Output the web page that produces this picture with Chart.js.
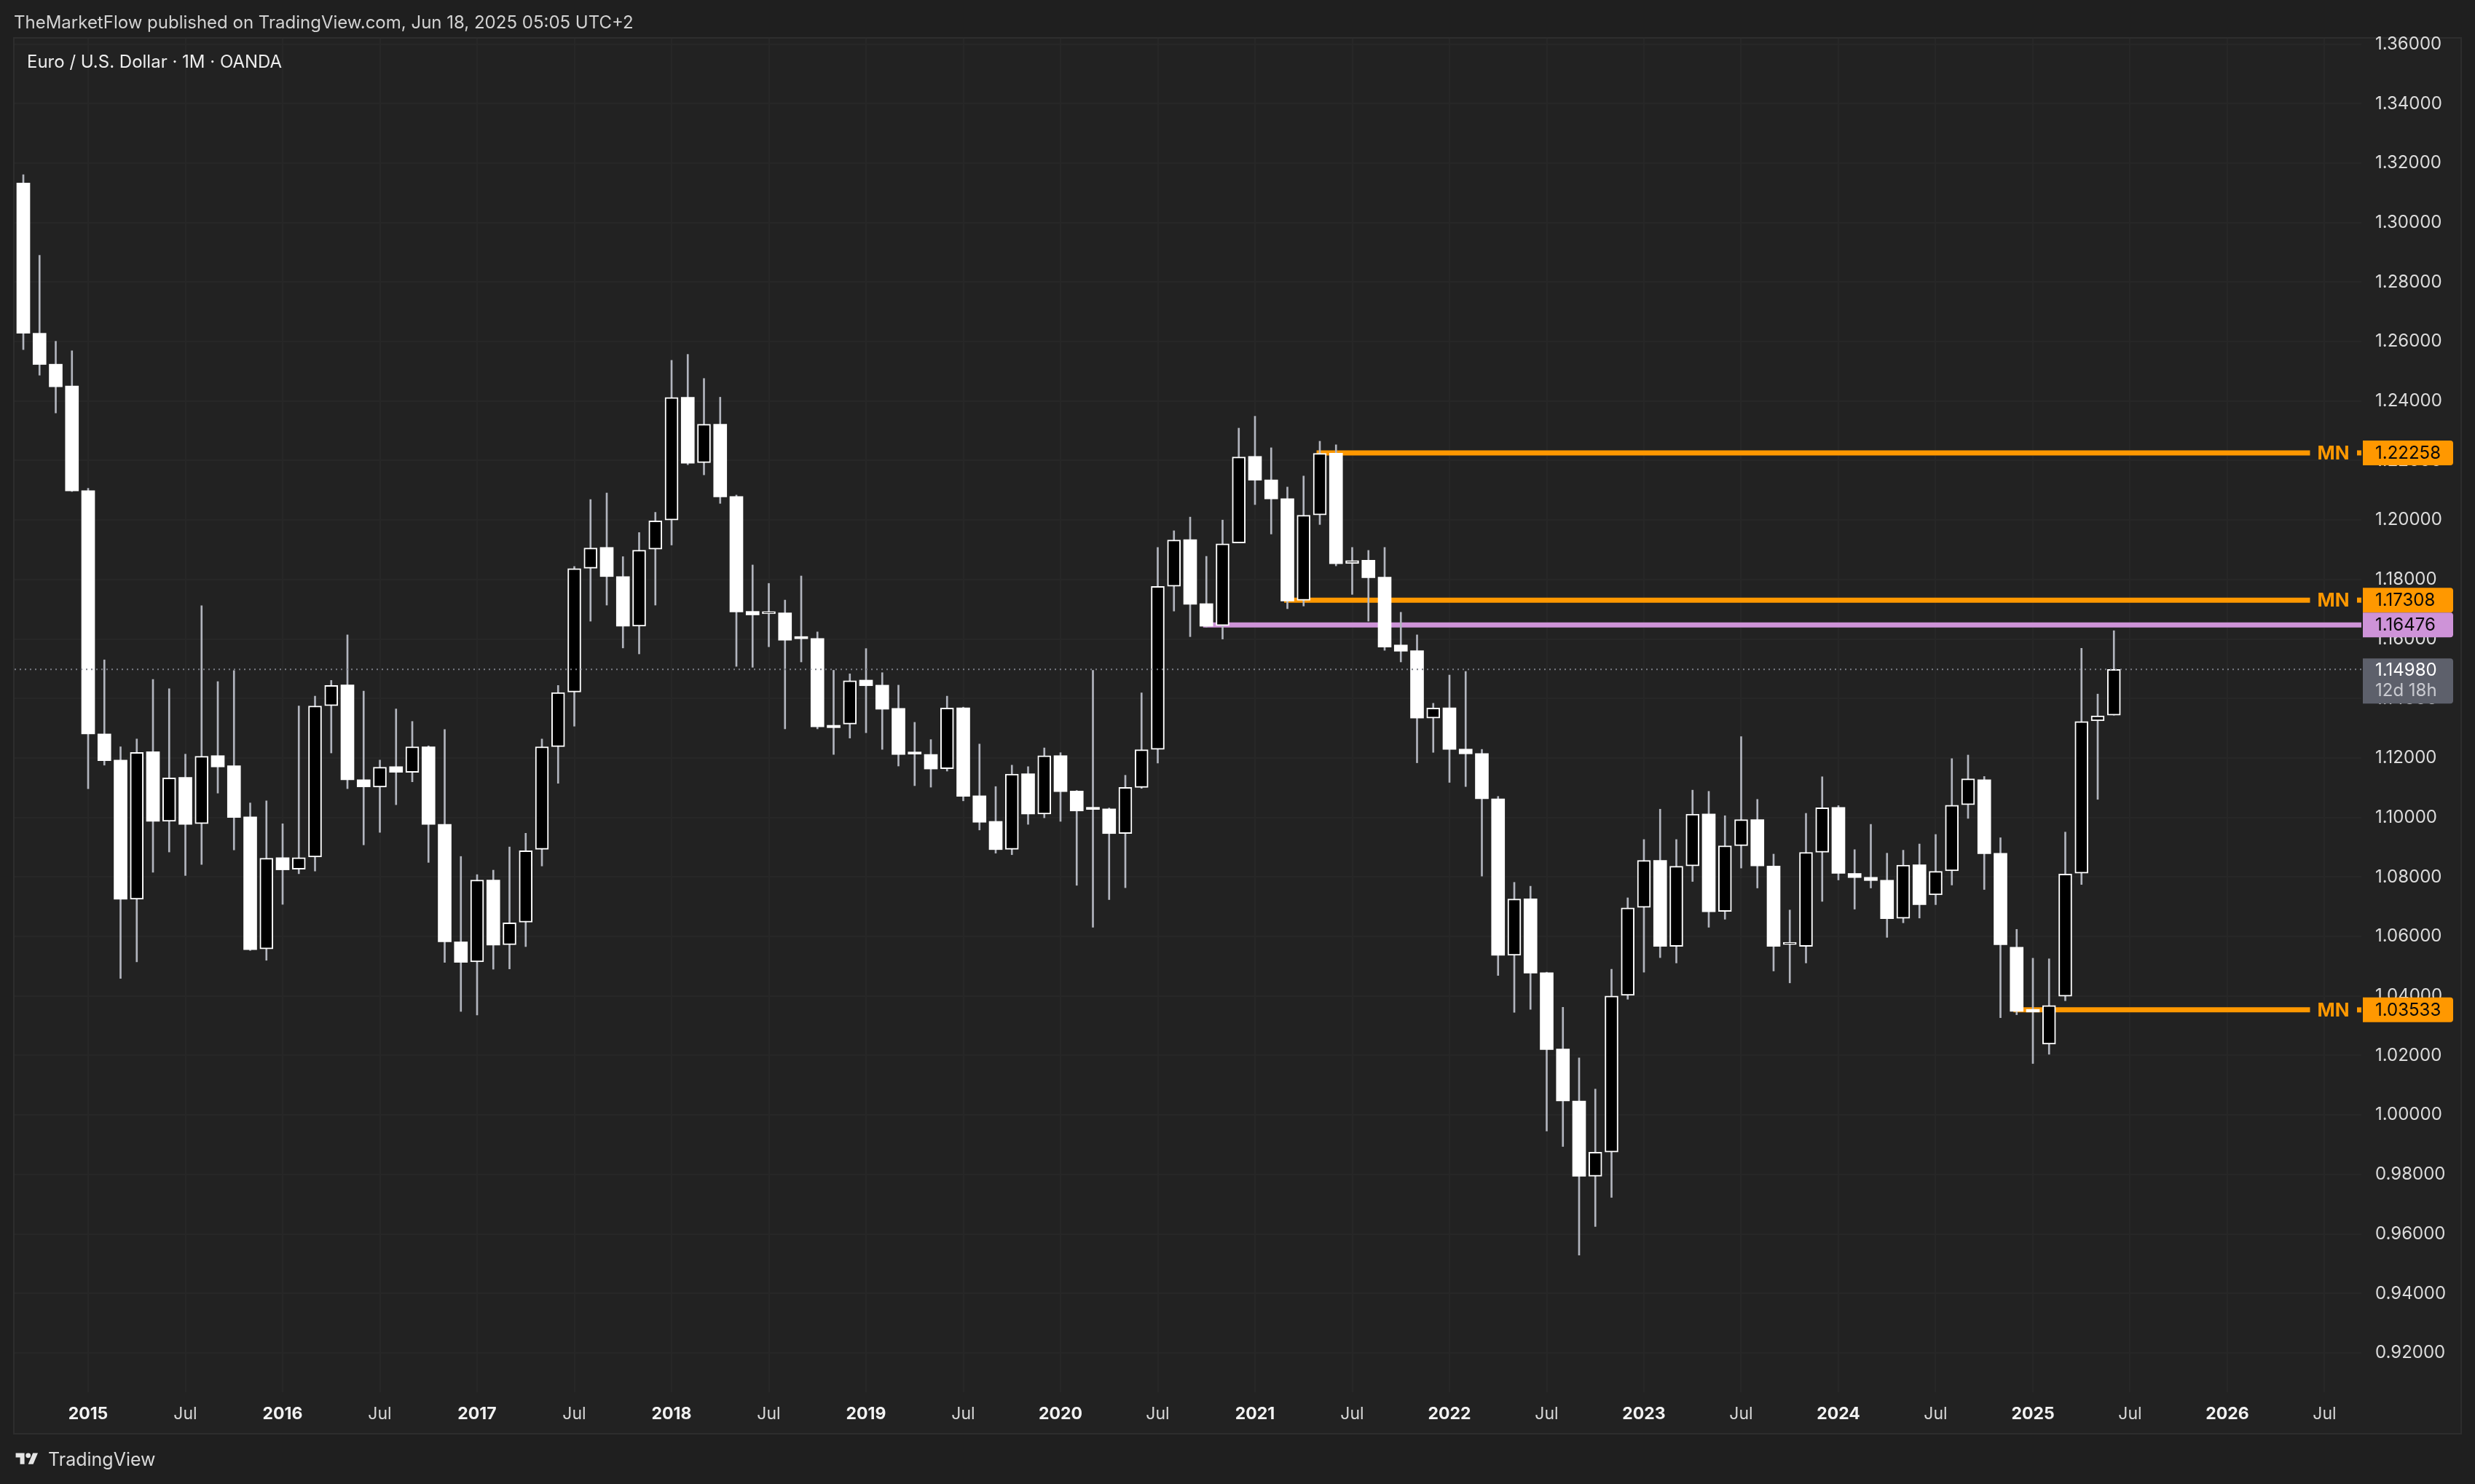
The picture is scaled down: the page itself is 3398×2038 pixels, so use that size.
<!DOCTYPE html>
<html>
<head>
<meta charset="utf-8">
<script src="https://cdn.jsdelivr.net/npm/chart.js@4.4.1/dist/chart.umd.min.js"></script>
<style>
  html, body { margin: 0; padding: 0; background: #1f1f1f; width: 3398px; height: 2038px; overflow: hidden; }
  body { font-family: Inter, "Noto Sans", sans-serif; }
  #wrap { position: relative; width: 3398px; height: 2038px; }
  #chart { position: absolute; left: 0; top: 0; }
  #header { position: absolute; left: 19px; top: 16px; font-size: 24px; color: #d2d2d2; white-space: nowrap; }
  #title { position: absolute; left: 37px; top: 70px; font-size: 24px; color: #ededed; white-space: nowrap; }
  #footer { position: absolute; left: 20px; top: 1990px; height: 28px; display: flex; align-items: center; color: #dadada; font-size: 25px; }
  #footer svg { margin-right: 12px; }
</style>
</head>
<body>
<div id="wrap">
  <canvas id="chart" width="3398" height="2038"></canvas>
  <div id="header">TheMarketFlow published on TradingView.com, Jun 18, 2025 05:05 UTC+2</div>
  <div id="title">Euro / U.S. Dollar · 1M · OANDA</div>
  <div id="footer">
    <svg width="34" height="24" viewBox="0 0 36 28"><path d="M14 22H7V11H0V4h14v18zM28 22h-8l7.5-18h8L28 22z" fill="#e6e6e6"/><circle cx="20" cy="8" r="4" fill="#e6e6e6"/></svg>
    <span>TradingView</span>
  </div>
</div>
<script>
// EUR/USD monthly, OANDA (Sep 2014 .. Jun 2025)
const months = [
  '2014-09','2014-10','2014-11','2014-12',
  '2015-01','2015-02','2015-03','2015-04','2015-05','2015-06','2015-07','2015-08','2015-09','2015-10','2015-11','2015-12',
  '2016-01','2016-02','2016-03','2016-04','2016-05','2016-06','2016-07','2016-08','2016-09','2016-10','2016-11','2016-12',
  '2017-01','2017-02','2017-03','2017-04','2017-05','2017-06','2017-07','2017-08','2017-09','2017-10','2017-11','2017-12',
  '2018-01','2018-02','2018-03','2018-04','2018-05','2018-06','2018-07','2018-08','2018-09','2018-10','2018-11','2018-12',
  '2019-01','2019-02','2019-03','2019-04','2019-05','2019-06','2019-07','2019-08','2019-09','2019-10','2019-11','2019-12',
  '2020-01','2020-02','2020-03','2020-04','2020-05','2020-06','2020-07','2020-08','2020-09','2020-10','2020-11','2020-12',
  '2021-01','2021-02','2021-03','2021-04','2021-05','2021-06','2021-07','2021-08','2021-09','2021-10','2021-11','2021-12',
  '2022-01','2022-02','2022-03','2022-04','2022-05','2022-06','2022-07','2022-08','2022-09','2022-10','2022-11','2022-12',
  '2023-01','2023-02','2023-03','2023-04','2023-05','2023-06','2023-07','2023-08','2023-09','2023-10','2023-11','2023-12',
  '2024-01','2024-02','2024-03','2024-04','2024-05','2024-06','2024-07','2024-08','2024-09','2024-10','2024-11','2024-12',
  '2025-01','2025-02','2025-03','2025-04','2025-05','2025-06'
];

const opens = [
  1.3133,1.2628,1.2524,1.2451,
  1.2099,1.1281,1.1193,1.0725,1.1221,1.0987,1.1135,1.0979,1.1208,1.1174,1.1002,1.0558,
  1.0865,1.0826,1.0867,1.1376,1.1446,1.1127,1.1102,1.1171,1.1152,1.1238,1.0977,1.0582,
  1.0515,1.0790,1.0572,1.0648,1.0893,1.1238,1.1422,1.1838,1.1908,1.1810,1.1643,1.1902,
  1.2000,1.2413,1.2193,1.2322,1.2079,1.1693,1.1685,1.1688,1.1603,1.1602,1.1310,1.1314,
  1.1462,1.1445,1.1367,1.1216,1.1212,1.1164,1.1369,1.1073,1.0987,1.0893,1.1147,1.1012,
  1.1208,1.1089,1.1030,1.1029,1.0946,1.1101,1.1229,1.1777,1.1934,1.1719,1.1645,1.1923,
  1.2214,1.2135,1.2072,1.1730,1.2017,1.2225,1.1854,1.1865,1.1808,1.1580,1.1561,1.1334,
  1.1369,1.1230,1.1215,1.1063,1.0537,1.0727,1.0478,1.0222,1.0047,0.9794,0.9875,1.0402,
  1.0698,1.0856,1.0567,1.0837,1.1012,1.0684,1.0905,1.0993,1.0837,1.0573,1.0567,1.0883,
  1.1034,1.0812,1.0799,1.0789,1.0661,1.0841,1.0740,1.0821,1.1043,1.1127,1.0880,1.0564,
  1.0355,1.0238,1.0399,1.0813,1.1325,1.1344
];
const highs = [
  1.3161,1.2890,1.2601,1.2569,
  1.2107,1.1530,1.1238,1.1264,1.1464,1.1433,1.1213,1.1712,1.1457,1.1494,1.1049,1.1056,
  1.0979,1.1375,1.1408,1.1461,1.1614,1.1425,1.1193,1.1365,1.1323,1.1241,1.1296,1.0869,
  1.0808,1.0823,1.0901,1.0947,1.1264,1.1444,1.1844,1.2069,1.2091,1.1877,1.1958,1.2026,
  1.2537,1.2557,1.2476,1.2413,1.2084,1.1849,1.1787,1.1731,1.1812,1.1624,1.1495,1.1483,
  1.1568,1.1487,1.1445,1.1320,1.1262,1.1408,1.1371,1.1247,1.1104,1.1176,1.1171,1.1234,
  1.1218,1.1091,1.1495,1.1032,1.1142,1.1419,1.1908,1.1964,1.2010,1.1878,1.2000,1.2309,
  1.2349,1.2243,1.2111,1.2148,1.2265,1.2253,1.1908,1.1898,1.1908,1.1690,1.1614,1.1384,
  1.1479,1.1491,1.1229,1.1071,1.0782,1.0769,1.0480,1.0362,1.0192,1.0087,1.0490,1.0730,
  1.0926,1.1028,1.0926,1.1092,1.1088,1.1006,1.1272,1.1061,1.0877,1.0689,1.1014,1.1137,
  1.1040,1.0892,1.0977,1.0880,1.0890,1.0911,1.0943,1.1198,1.1210,1.1138,1.0932,1.0624,
  1.0527,1.0525,1.0951,1.1569,1.1415,1.1628
];
const lows = [
  1.2573,1.2487,1.2360,1.2096,
  1.1097,1.1176,1.0459,1.0515,1.0816,1.0884,1.0805,1.0842,1.1082,1.0891,1.0553,1.0520,
  1.0708,1.0811,1.0820,1.1217,1.1097,1.0908,1.0950,1.1043,1.1120,1.0849,1.0513,1.0348,
  1.0336,1.0490,1.0491,1.0566,1.0837,1.1115,1.1307,1.1660,1.1714,1.1570,1.1550,1.1714,
  1.1916,1.2186,1.2152,1.2056,1.1508,1.1505,1.1574,1.1298,1.1523,1.1298,1.1212,1.1267,
  1.1285,1.1229,1.1173,1.1107,1.1102,1.1156,1.1056,1.0958,1.0880,1.0875,1.0977,1.0999,
  1.0987,1.0772,1.0631,1.0724,1.0764,1.1098,1.1183,1.1694,1.1608,1.1640,1.1600,1.1923,
  1.2052,1.1953,1.1702,1.1711,1.1985,1.1846,1.1750,1.1660,1.1562,1.1523,1.1184,1.1219,
  1.1118,1.1104,1.0803,1.0469,1.0345,1.0355,0.9946,0.9894,0.9529,0.9625,0.9723,1.0389,
  1.0480,1.0529,1.0511,1.0785,1.0631,1.0658,1.0830,1.0763,1.0484,1.0444,1.0511,1.0718,
  1.0790,1.0692,1.0763,1.0597,1.0646,1.0662,1.0707,1.0773,1.0997,1.0758,1.0327,1.0337,
  1.0173,1.0204,1.0384,1.0775,1.1061,1.1344
];
const closes = [
  1.2628,1.2523,1.2448,1.2098,
  1.1281,1.1191,1.0725,1.1219,1.0987,1.1133,1.0977,1.1206,1.1170,1.1000,1.0556,1.0863,
  1.0824,1.0865,1.1375,1.1444,1.1127,1.1103,1.1169,1.1152,1.1238,1.0977,1.0582,1.0513,
  1.0790,1.0571,1.0646,1.0888,1.1238,1.1420,1.1837,1.1906,1.1810,1.1643,1.1899,1.1997,
  1.2412,1.2191,1.2322,1.2078,1.1691,1.1681,1.1690,1.1596,1.1601,1.1305,1.1302,1.1460,
  1.1443,1.1364,1.1212,1.1213,1.1163,1.1368,1.1071,1.0984,1.0892,1.1146,1.1012,1.1208,
  1.1087,1.1022,1.1027,1.0946,1.1101,1.1228,1.1777,1.1933,1.1717,1.1643,1.1920,1.2212,
  1.2134,1.2071,1.1728,1.2016,1.2224,1.1853,1.1864,1.1806,1.1573,1.1559,1.1334,1.1368,
  1.1229,1.1214,1.1063,1.0537,1.0726,1.0477,1.0220,1.0047,0.9794,0.9875,1.0400,1.0696,
  1.0856,1.0567,1.0836,1.1011,1.0683,1.0905,1.0993,1.0837,1.0567,1.0576,1.0883,1.1033,
  1.0812,1.0798,1.0788,1.0660,1.0840,1.0707,1.0819,1.1041,1.1130,1.0878,1.0572,1.0348,
  1.0346,1.0368,1.0810,1.1323,1.1342,1.1498
];

// time axis ticks
const tickMonths = [
  '2015-01','2015-07','2016-01','2016-07','2017-01','2017-07','2018-01','2018-07',
  '2019-01','2019-07','2020-01','2020-07','2021-01','2021-07','2022-01','2022-07',
  '2023-01','2023-07','2024-01','2024-07','2025-01','2025-07','2026-01','2026-07'
];
const tickLabels = [
  '2015','Jul','2016','Jul','2017','Jul','2018','Jul',
  '2019','Jul','2020','Jul','2021','Jul','2022','Jul',
  '2023','Jul','2024','Jul','2025','Jul','2026','Jul'
];
const priceTicks = [0.92,0.94,0.96,0.98,1.00,1.02,1.04,1.06,1.08,1.10,1.12,1.14,1.16,1.18,1.20,1.22,1.24,1.26,1.28,1.30,1.32,1.34,1.36];

// horizontal levels drawn on the chart
const levelValues = [1.22258, 1.17308, 1.16476, 1.03533];
const levelFrom = ['2021-05', '2021-03', '2020-10', '2024-12'];
const levelTags = ['MN', 'MN', '', 'MN'];
const levelColors = ['#ff9800', '#ff9800', '#ce93d8', '#ff9800'];
const countdown = '12d 18h';

// view range (in month index units) and misc layout
const xMin = -0.54, xMax = 144.27;
const yMin = 0.90678, yMax = 1.36186;
const tagEnd = 141.1;

function monthIndex(s) {
  const [y, m] = s.split('-').map(Number);
  const [y0, m0] = months[0].split('-').map(Number);
  return (y - y0) * 12 + (m - m0);
}
const isUp = i => closes[i] >= opens[i];
const lastClose = closes[closes.length - 1];
const tickIdx = tickMonths.map(monthIndex);

const framePlugin = {
  id: 'frame',
  beforeDraw(chart) {
    const c = chart.ctx, a = chart.chartArea;
    const xs = chart.scales.x, ys = chart.scales.y;
    c.save();
    c.fillStyle = '#1f1f1f';
    c.fillRect(0, 0, chart.width, chart.height);
    c.fillStyle = '#222222';
    c.fillRect(a.left, a.top, ys.right - a.left, xs.bottom - a.top);
    c.strokeStyle = '#2d2d2d';
    c.lineWidth = 2;
    c.strokeRect(a.left - 1, a.top - 1, ys.right - a.left + 2, xs.bottom - a.top + 2);
    c.restore();
  }
};

function box(c, x, y, w, h, r, color) {
  c.fillStyle = color;
  c.beginPath();
  c.moveTo(x, y);
  c.lineTo(x + w - r, y);
  c.quadraticCurveTo(x + w, y, x + w, y + r);
  c.lineTo(x + w, y + h - r);
  c.quadraticCurveTo(x + w, y + h, x + w - r, y + h);
  c.lineTo(x, y + h);
  c.closePath();
  c.fill();
}

const labelPlugin = {
  id: 'labels',
  afterDraw(chart) {
    const c = chart.ctx, a = chart.chartArea;
    const xs = chart.scales.x, ys = chart.scales.y;
    const bx = a.right + 2, bw = 124;
    c.save();
    c.textBaseline = 'middle';
    // last price box
    const py = ys.getPixelForValue(lastClose);
    box(c, bx, py - 15, bw, 62, 4, '#5d606b');
    c.font = '24px Inter';
    c.textAlign = 'left';
    c.fillStyle = '#ffffff';
    c.fillText(lastClose.toFixed(5), bx + 17, py + 2);
    c.fillStyle = '#c9cad0';
    c.fillText(countdown, bx + 17, py + 30);
    // level boxes + tags
    levelValues.forEach((v, i) => {
      const y = ys.getPixelForValue(v);
      if (levelTags[i]) {
        const ex = xs.getPixelForValue(tagEnd);
        c.fillStyle = levelColors[i];
        c.font = 'bold 26px Inter';
        c.textAlign = 'left';
        c.fillText(levelTags[i], ex + 10, y + 1);
        c.fillRect(a.right - 6, y - 3.5, 6, 7);
      }
      box(c, bx, y - 17, bw, 34, 4, levelColors[i]);
      c.fillStyle = '#0a0a0a';
      c.font = '24px Inter';
      c.textAlign = 'left';
      c.fillText(v.toFixed(5), bx + 17, y + 1);
    });
    c.restore();
  }
};

const datasets = [
  {
    type: 'line', label: 'last',
    data: [{ x: xMin, y: lastClose }, { x: xMax, y: lastClose }],
    borderColor: '#7a7d86', borderWidth: 2, borderDash: [2, 5],
    pointRadius: 0, order: 0
  },
  {
    type: 'bar', label: 'bodies',
    data: months.map((m, i) => ({ x: i, y: [opens[i], closes[i]] })),
    backgroundColor: ctx => isUp(ctx.dataIndex) ? '#000000' : '#ffffff',
    borderColor: '#ffffff',
    borderWidth: ctx => isUp(ctx.dataIndex) ? 2 : 0,
    borderSkipped: false,
    barThickness: 18, minBarLength: 3,
    grouped: false, order: 1
  },
  {
    type: 'bar', label: 'wicks',
    data: months.map((m, i) => ({ x: i, y: [lows[i], highs[i]] })),
    backgroundColor: '#b2b5be',
    barThickness: 2, grouped: false, order: 2
  }
];
levelValues.forEach((v, i) => {
  datasets.push({
    type: 'line', label: 'level' + i,
    data: [{ x: monthIndex(levelFrom[i]) - 0.2, y: v }, { x: levelTags[i] ? tagEnd : xMax, y: v }],
    borderColor: levelColors[i], borderWidth: 7, pointRadius: 0, order: 3
  });
});

Chart.defaults.font.family = 'Inter, "Noto Sans", sans-serif';

new Chart(document.getElementById('chart'), {
  type: 'bar',
  data: { datasets },
  options: {
    responsive: false,
    animation: false,
    devicePixelRatio: 1,
    layout: { padding: { left: 20, top: 53, right: 20, bottom: 70 } },
    plugins: { legend: { display: false }, tooltip: { enabled: false } },
    scales: {
      x: {
        type: 'linear', min: xMin, max: xMax, offset: false,
        grid: { color: '#272727', lineWidth: 2, offset: false, drawTicks: false },
        border: { display: false },
        afterBuildTicks: s => { s.ticks = tickIdx.map(v => ({ value: v })); },
        afterFit: s => { s.height = 56; },
        ticks: {
          autoSkip: false, maxRotation: 0, padding: 16,
          color: c => /^\d/.test(tickLabels[c.index] || '') ? '#f2f2f2' : '#d8d8d8',
          font: c => ({ size: 23, weight: /^\d/.test(tickLabels[c.index] || '') ? 'bold' : 'normal' }),
          callback: (v, i) => tickLabels[i]
        }
      },
      y: {
        type: 'linear', position: 'right', min: yMin, max: yMax,
        grid: { color: '#272727', lineWidth: 2, drawTicks: false },
        border: { display: false },
        afterBuildTicks: s => { s.ticks = priceTicks.map(v => ({ value: v })); },
        afterFit: s => { s.width = 136; },
        ticks: {
          autoSkip: false, padding: 19, color: '#dcdcdc',
          font: { size: 24 },
          callback: v => v.toFixed(5)
        }
      }
    }
  },
  plugins: [framePlugin, labelPlugin]
});
</script>
</body>
</html>
